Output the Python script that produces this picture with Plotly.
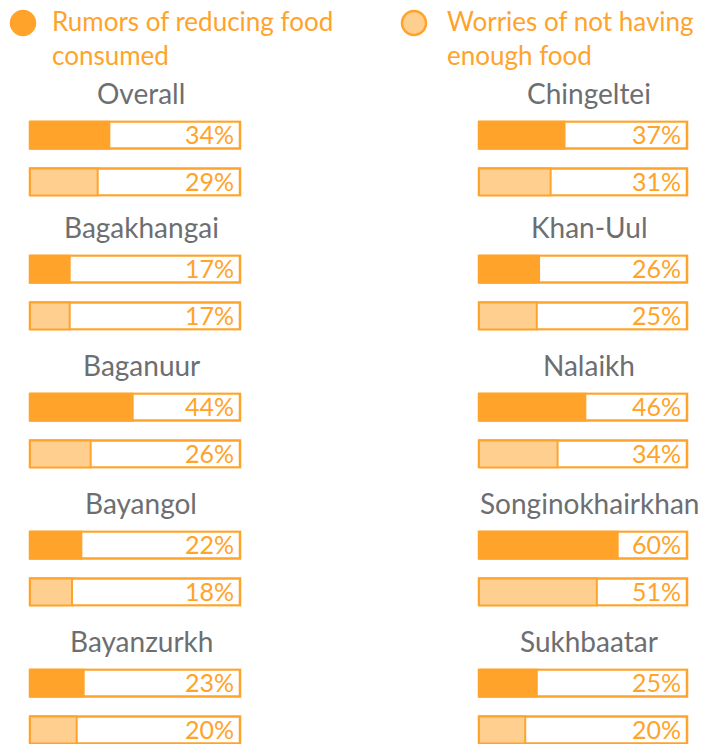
import plotly.graph_objects as go

# ---- data ----
regions = ["Overall", "Bagakhangai", "Baganuur", "Bayangol", "Bayanzurkh",
           "Chingeltei", "Khan-Uul", "Nalaikh", "Songinokhairkhan", "Sukhbaatar"]
rumors = [34, 17, 44, 22, 23, 37, 26, 46, 60, 25]
worries = [29, 17, 26, 18, 20, 31, 25, 34, 51, 20]
series_names = ["Rumors of reducing food<br>consumed",
                "Worries of not having<br>enough food"]

# ---- style ----
W, H = 703, 744
OFF = 0  # body margin removed via post_script
ORANGE = "#FFA32A"
LIGHT = "#FFCF8F"
GRAY = "#6D6E71"
FONT = "Lato, 'Noto Sans', sans-serif"
SCALE_MAX = 90  # value at the right edge of the frame

col_x = [(30, 240), (479, 687)]
title_x = [141, 589]
bar1_centers = [135, 269, 407, 545, 683]
title_centers = [93, 227, 365, 503, 641]
GAP = 47
BAR_PX = 27

def py(p):
    return 1 - (p - OFF) / H

def px(p):
    return (p - OFF) / W

fig = go.Figure()
shapes = []
annotations = []
half = BAR_PX / GAP / 2

for i, name in enumerate(regions):
    col, row = divmod(i, 5)
    n = i + 1
    xs = "" if n == 1 else str(n)
    x0p, x1p = col_x[col]
    c1 = bar1_centers[row]
    top = c1 - BAR_PX / 2 - 1
    bot = min(c1 + GAP + BAR_PX / 2 + 1, H)
    r_top = (top - c1) / GAP
    r_bot = (bot - c1) / GAP
    fig.update_layout(**{
        f"xaxis{xs}": dict(domain=[px(x0p), px(x1p)], range=[0, SCALE_MAX], visible=False,
                           anchor=f"y{xs}", fixedrange=True),
        f"yaxis{xs}": dict(domain=[max(py(bot), 0), py(top)], range=[r_bot, r_top], visible=False,
                           anchor=f"x{xs}", fixedrange=True),
    })
    vals = [rumors[i], worries[i]]
    colors = [ORANGE, LIGHT]
    for j in range(2):
        shapes.append(dict(type="rect", xref=f"x{xs} domain", yref=f"y{xs}",
                           x0=0, x1=1, y0=j - half, y1=j + half,
                           line=dict(color=ORANGE, width=2.5), fillcolor="white", layer="below"))
        annotations.append(dict(xref=f"x{xs} domain", yref=f"y{xs}", x=1, y=j,
                                xanchor="right", yanchor="middle", xshift=-4, yshift=1,
                                showarrow=False, text=f"{vals[j]}%",
                                font=dict(family=FONT, size=25, color=ORANGE)))
    fig.add_trace(go.Bar(
        x=vals, y=[0, 1], orientation="h", width=BAR_PX / GAP,
        marker=dict(color=colors, line=dict(color=ORANGE, width=2)),
        xaxis=f"x{xs}", yaxis=f"y{xs}", showlegend=False, hoverinfo="skip",
        cliponaxis=False,
    ))
    annotations.append(dict(xref="paper", yref="paper", x=px(title_x[col]),
                            y=py(title_centers[row]), xanchor="center", yanchor="middle",
                            showarrow=False, text=name,
                            font=dict(family=FONT, size=28, color=GRAY)))

# legend (drawn)
legend_pos = [(23, 50), (414, 445)]
for k, (cx, tx) in enumerate(legend_pos):
    r = 12
    shapes.append(dict(type="circle", xref="paper", yref="paper",
                       x0=px(cx - r), x1=px(cx + r), y0=py(23 + r), y1=py(23 - r),
                       fillcolor=[ORANGE, LIGHT][k], line=dict(color=ORANGE, width=2.5)))
    annotations.append(dict(xref="paper", yref="paper", x=px(tx), y=py(38),
                            xanchor="left", yanchor="middle", align="left", showarrow=False,
                            text=series_names[k],
                            font=dict(family=FONT, size=26, color=ORANGE)))

fig.update_layout(
    width=W, height=H, margin=dict(l=0, r=0, t=0, b=0),
    paper_bgcolor="white", plot_bgcolor="rgba(0,0,0,0)",
    barmode="overlay", shapes=shapes, annotations=annotations,
    font=dict(family=FONT),
)

fig.write_html("out.html", config={"displayModeBar": False},
               post_script="document.body.style.margin='0px';document.body.style.overflow='hidden';")
